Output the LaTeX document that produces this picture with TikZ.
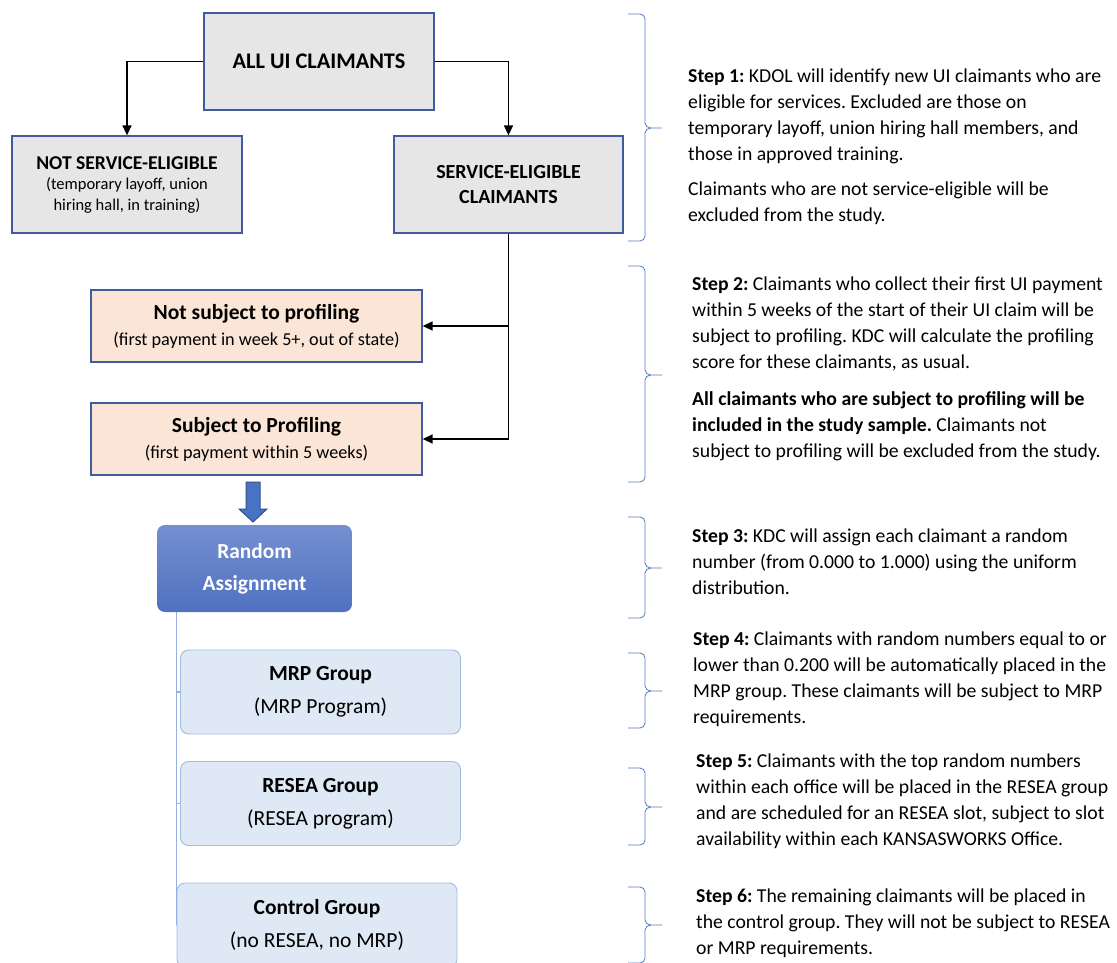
\documentclass[tikz,border=0pt]{standalone}
\usepackage{fontspec}
\setmainfont{Carlito}
\usepackage{tikz}
\usetikzlibrary{calc, positioning, arrows.meta}
\definecolor{boxEdge}{RGB}{64, 92, 158}
\definecolor{grayFill}{RGB}{231, 230, 230}
\definecolor{peachFill}{RGB}{250, 229, 214}
\definecolor{groupFill}{RGB}{223, 233, 246}
\definecolor{groupEdge}{RGB}{164, 187, 228}
\definecolor{raTop}{RGB}{116, 144, 208}
\definecolor{raBottom}{RGB}{80, 112, 192}
\definecolor{arrowBlue}{RGB}{72, 114, 196}
\definecolor{arrowEdge}{RGB}{50, 80, 140}
\definecolor{braceBlue}{RGB}{84, 122, 200}
\definecolor{treeLine}{RGB}{150, 175, 222}

\newcommand{\stepfont}{\fontsize{19.7}{26}\selectfont}
\frenchspacing

\begin{document}
\begin{tikzpicture}[x=1pt, y=-1pt, font=\fontsize{18}{21}\selectfont,
  graybox/.style={draw=boxEdge, line width=1.3pt, fill=grayFill, align=center, inner sep=0pt, minimum height=97pt},
  peachbox/.style={draw=boxEdge, line width=1.3pt, fill=peachFill, align=center, inner sep=0pt,
    minimum width=331pt, minimum height=72pt, font=\fontsize{18.2}{26}\selectfont},
  groupbox/.style={draw=groupEdge, line width=0.9pt, fill=groupFill, rounded corners=8pt, align=center,
    inner sep=0pt, minimum width=280pt, minimum height=84pt, font=\fontsize{21.5}{33}\selectfont},
  flow/.style={-{Triangle[length=10pt, width=9pt]}, line width=1.5pt},
  steptext/.style={anchor=north west, align=left, inner sep=0pt, font=\stepfont},
  stepbrace/.style={draw=braceBlue, line width=0.8pt},
  tree/.style={draw=treeLine, line width=1.2pt},
]
  \useasboundingbox (0,0) rectangle (1117,962);
  \fill[white] (0,0) rectangle (1117,962);

  % eligibility
  \node[graybox, minimum width=230pt, font=\fontsize{22.3}{24}\selectfont\bfseries] (all) at (319, 61.5) {ALL UI CLAIMANTS};
  \node[graybox, minimum width=230pt, font=\fontsize{16.5}{20.5}\selectfont] (notse) at (127, 184.5)
    {{\fontsize{19.6}{20.5}\selectfont\bfseries NOT SERVICE-ELIGIBLE}\\(temporary layoff, union\\hiring hall, in training)};
  \node[graybox, minimum width=229pt, font=\fontsize{20}{25}\selectfont\bfseries] (se) at (508.5, 184.5)
    {SERVICE-ELIGIBLE\\CLAIMANTS};
  \draw[flow] (all.west) -| (notse.north);
  \draw[flow] (all.east) -| (se.north);

  % profiling
  \node[peachbox] (noprof) at (256.5, 326)
    {{\fontsize{21.5}{26}\selectfont\bfseries Not subject to profiling}\\(first payment in week 5+, out of state)};
  \node[peachbox] (prof) at (256.5, 439)
    {{\fontsize{21.5}{26}\selectfont\bfseries Subject to Profiling}\\(first payment within 5 weeks)};
  \draw[flow] (se.south) |- (noprof.east);
  \draw[flow] (se.south) |- (prof.east);

  % random assignment
  \node[rounded corners=8pt, top color=raTop, bottom color=raBottom, minimum width=195pt, minimum height=87pt,
    text=white, align=center, font=\fontsize{21.4}{32}\selectfont\bfseries] (ra) at (254.5, 568.5) {Random\\Assignment};
  \coordinate (bigtip) at (253, 522);
  \draw[fill=arrowBlue, draw=arrowEdge, line width=1pt] (bigtip) -- ++(14,-13) -- ++(-7,0) -- ++(0,-27)
    -- ++(-14,0) -- ++(0,27) -- ++(-7,0) -- cycle;

  % groups
  \node[groupbox] (mrp) at (320.5, 692) {\textbf{MRP Group}\\(MRP Program)};
  \node[groupbox] (resea) at (320.5, 803.5) {\textbf{RESEA Group}\\(RESEA program)};
  \node[groupbox] (ctrl) at (317, 925) {\textbf{Control Group}\\(no RESEA, no MRP)};
  \coordinate (trunk) at ([xshift=20pt]ra.south west);
  \draw[tree] (trunk) |- (mrp.west);
  \draw[tree] (trunk) |- (resea.west);
  \draw[tree] (trunk) |- (ctrl.west);

  % braces
  \foreach \top/\tip/\bot in {14/128/241, 266/375/482, 517/568/618, 653/691/728, 768/807/845, 887/925/963} {
    \draw[stepbrace] (628,\top) -- (640,\top) to[out=0, in=90] (645,\top+5) -- (645,\tip-5)
      to[out=-90, in=180] (651,\tip) -- (662,\tip)
      (651,\tip) to[out=180, in=90] (645,\tip+5) -- (645,\bot-5) to[out=-90, in=0] (640,\bot) -- (628,\bot);
  }

  % steps
  \node[steptext] (step1) at (688, 69) {\textbf{Step 1:} KDOL will identify new UI claimants who are\\
    eligible for services. Excluded are those on\\temporary layoff, union hiring hall members, and\\
    those in approved training.\\[9pt]Claimants who are not service-eligible will be\\excluded from the study.};
  \node[steptext] (step2) at (692, 277) {\textbf{Step 2:} Claimants who collect their first UI payment\\
    within 5 weeks of the start of their UI claim will be\\subject to profiling. KDC will calculate the profiling\\
    score for these claimants, as usual.\\[11pt]\textbf{All claimants who are subject to profiling will be}\\
    \textbf{included in the study sample.} Claimants not\\subject to profiling will be excluded from the study.};
  \node[steptext] (step3) at (692, 529) {\textbf{Step 3:} KDC will assign each claimant a random\\
    number (from 0.000 to 1.000) using the uniform\\distribution.};
  \node[steptext] (step4) at (693, 632) {\textbf{Step 4:} Claimants with random numbers equal to or\\
    lower than 0.200 will be automatically placed in the\\MRP group. These claimants will be subject to MRP\\
    requirements.};
  \node[steptext] (step5) at (696, 754) {\textbf{Step 5:} Claimants with the top random numbers\\
    within each office will be placed in the RESEA group\\and are scheduled for an RESEA slot, subject to slot\\
    availability within each KANSASWORKS Office.};
  \node[steptext] (step6) at (696, 889) {\textbf{Step 6:} The remaining claimants will be placed in\\
    the control group. They will not be subject to RESEA\\or MRP requirements.};
\end{tikzpicture}
\end{document}
